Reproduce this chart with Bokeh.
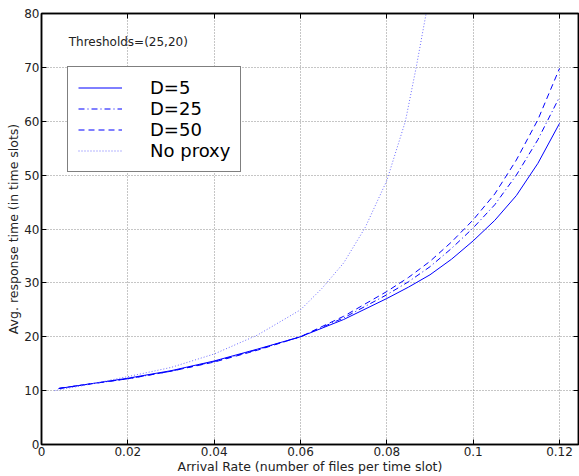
from bokeh.plotting import figure
from bokeh.models import Range1d, FixedTicker, LinearAxis, Label, Legend, LegendItem
from bokeh.embed import file_html
from bokeh.resources import INLINE

# ---- data ----
x_d = [0.004, 0.01, 0.02, 0.03, 0.04, 0.05, 0.06, 0.07, 0.08, 0.085, 0.09, 0.095, 0.1, 0.105, 0.11, 0.115, 0.12]
d5 = [10.4, 11.1, 12.3, 13.7, 15.5, 17.7, 20.0, 23.2, 27.1, 29.2, 31.5, 34.4, 37.8, 41.6, 46.2, 52.2, 59.6]
d25 = [10.4, 11.1, 12.2, 13.6, 15.4, 17.6, 20.0, 23.5, 27.8, 30.2, 33.0, 36.4, 40.2, 44.5, 50.0, 56.6, 64.5]
d50 = [10.4, 11.1, 12.2, 13.6, 15.3, 17.5, 20.0, 23.8, 28.4, 31.0, 34.0, 37.6, 41.7, 46.5, 52.8, 60.3, 69.8]
x_np = [0.003, 0.01, 0.02, 0.03, 0.04, 0.05, 0.06, 0.065, 0.07, 0.075, 0.08, 0.0843, 0.0868, 0.0891, 0.0905]
no_proxy = [10.0, 11.0, 12.6, 14.3, 16.8, 20.3, 25.0, 29.0, 33.7, 40.3, 49.0, 60.0, 70.0, 80.0, 86.0]

series_labels = ["D=5", "D=25", "D=50", "No proxy"]
x_ticks = [0, 0.02, 0.04, 0.06, 0.08, 0.1, 0.12]
x_tick_labels = ["0", "0.02", "0.04", "0.06", "0.08", "0.1", "0.12"]
y_ticks = [0, 10, 20, 30, 40, 50, 60, 70, 80]
y_tick_labels = ["0", "10", "20", "30", "40", "50", "60", "70", "80"]
x_label = "Arrival Rate (number of files per time slot)"
y_label = "Avg. response time (in time slots)"
note = "Thresholds=(25,20)"

FONT = "DejaVu Sans"

p = figure(width=579, height=476, x_range=Range1d(0, 0.1244), y_range=Range1d(0, 80),
           output_backend="svg", toolbar_location=None,
           min_border_left=41, min_border_right=1, min_border_top=13, min_border_bottom=30)
p.background_fill_color = "white"
p.border_fill_color = "white"
p.outline_line_color = "black"
p.outline_line_width = 1.5

# grid
for g in (p.xgrid, p.ygrid):
    g.grid_line_color = "#8c8c8c"
    g.grid_line_dash = "1 2"
    g.grid_line_width = 1
p.xgrid.ticker = FixedTicker(ticks=x_ticks)
p.ygrid.ticker = FixedTicker(ticks=y_ticks)

def style_axis(ax, ticks, labels, show_labels=True):
    ax.ticker = FixedTicker(ticks=ticks)
    ax.axis_line_color = "black"
    ax.axis_line_width = 1.5
    ax.major_tick_in = 5
    ax.major_tick_out = 0
    ax.major_tick_line_color = "black"
    ax.minor_tick_line_color = None
    ax.major_label_text_font = FONT
    if show_labels:
        ax.major_label_overrides = {t: l for t, l in zip(ticks, labels)}
        ax.major_label_text_color = "#222222"
        ax.major_label_text_font_size = "12px"
        ax.major_label_standoff = 2
    else:
        ax.major_label_text_color = None
        ax.major_label_text_font_size = "1px"
        ax.major_label_standoff = 0

style_axis(p.xaxis[0], x_ticks, x_tick_labels)
style_axis(p.yaxis[0], y_ticks, y_tick_labels)
p.xaxis[0].axis_label = x_label
p.yaxis[0].axis_label = y_label
for ax in (p.xaxis[0], p.yaxis[0]):
    ax.axis_label_text_font = FONT
    ax.axis_label_text_font_size = "12.5px"
    ax.axis_label_text_font_style = "normal"
    ax.axis_label_text_color = "#222222"
    ax.axis_label_standoff = 0

top_ax = LinearAxis()
style_axis(top_ax, x_ticks, x_tick_labels, show_labels=False)
p.add_layout(top_ax, "above")
right_ax = LinearAxis()
style_axis(right_ax, y_ticks, y_tick_labels, show_labels=False)
p.add_layout(right_ax, "right")

# lines
r1 = p.line(x_d, d5, line_color="blue", line_width=1)
r2 = p.line(x_d, d25, line_color="blue", line_width=1, line_dash="6 3 1 3")
r3 = p.line(x_d, d50, line_color="blue", line_width=1, line_dash="6 4")
r4 = p.line(x_np, no_proxy, line_color="#6b6bff", line_width=1, line_dash="1 2")

legend = Legend(items=[LegendItem(label=series_labels[0], renderers=[r1]),
                       LegendItem(label=series_labels[1], renderers=[r2]),
                       LegendItem(label=series_labels[2], renderers=[r3]),
                       LegendItem(label=series_labels[3], renderers=[r4])],
                location=(26, 272))
legend.border_line_color = "black"
legend.border_line_width = 1.5
legend.background_fill_color = "white"
legend.background_fill_alpha = 1
legend.margin = 0
legend.padding = 10
legend.spacing = 0
legend.glyph_width = 44
legend.glyph_height = 21
legend.label_height = 21
legend.label_standoff = 28
legend.label_text_font = FONT
legend.label_text_font_size = "18px"
legend.label_text_color = "black"
p.add_layout(legend)

p.add_layout(Label(x=0.0063, y=74.8, text=note, text_font=FONT, text_font_size="12px",
                   text_baseline="middle", text_color="#222222"))

open("out.html", "w").write(file_html(p, INLINE))
